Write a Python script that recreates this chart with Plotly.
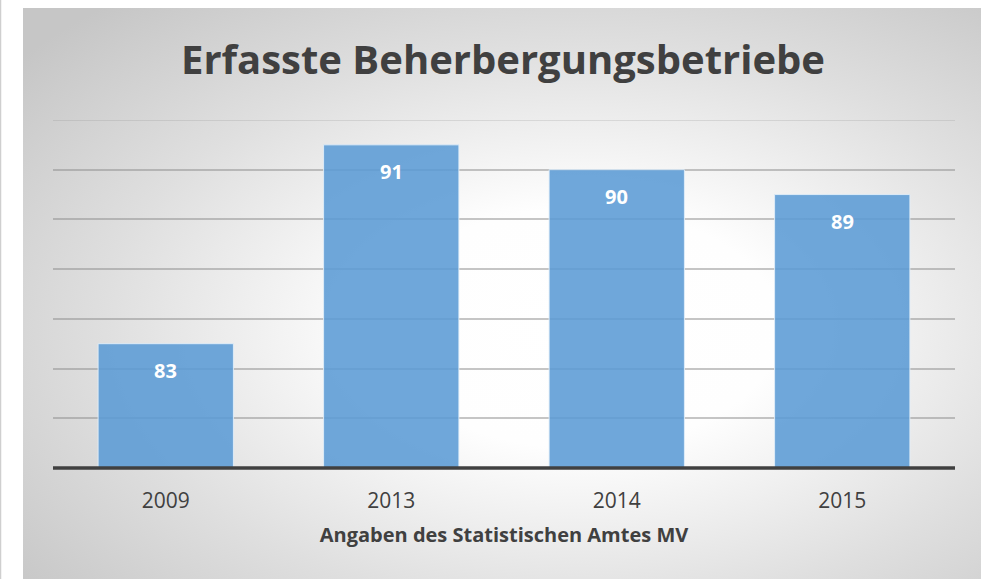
import plotly.graph_objects as go
import urllib.parse

categories = ["2009", "2013", "2014", "2015"]
values = [83, 91, 90, 89]
labels = ["83", "91", "90", "89"]

title_text = "Erfasste Beherbergungsbetriebe"
xaxis_title = "Angaben des Statistischen Amtes MV"

W, H = 981, 579
L, R, T, B = 53, 26, 120, 111
pw, ph = W - L - R, H - T - B

def px_to_paper_x(px):
    return (px - L) / pw

def px_to_paper_y(py):
    return (H - B - py) / ph

# radial gradient background (chart area)
bx0, by0, bx1, by1 = 23, 8, 981, 579
svg = (
    f'<svg xmlns="http://www.w3.org/2000/svg" width="{bx1-bx0}" height="{by1-by0}" '
    f'viewBox="0 0 {bx1-bx0} {by1-by0}" preserveAspectRatio="none">'
    '<defs><radialGradient id="g" cx="0.58" cy="0.56" r="0.75" fx="0.58" fy="0.56">'
    '<stop offset="0" stop-color="#ffffff"/>'
    '<stop offset="0.28" stop-color="#fefefe"/>'
    '<stop offset="0.66" stop-color="#dfdfdf"/>'
    '<stop offset="1" stop-color="#c6c6c6"/>'
    '</radialGradient></defs>'
    f'<rect x="0" y="0" width="{bx1-bx0}" height="{by1-by0}" fill="url(#g)"/></svg>'
)
svg_uri = "data:image/svg+xml;charset=utf-8," + urllib.parse.quote(svg)

grid_color = "rgba(140,140,140,0.5)"

fig = go.Figure()
fig.add_trace(go.Bar(
    x=categories,
    y=values,
    marker=dict(color="rgba(91,155,213,0.88)",
                line=dict(color="rgba(225,238,250,0.9)", width=1)),
    width=0.6,
    hoverinfo="skip",
))

for i, (v, t) in enumerate(zip(values, labels)):
    fig.add_annotation(x=i, y=v, text=f"<b>{t}</b>", showarrow=False,
                       yanchor="middle", yshift=-27,
                       font=dict(family="Open Sans", size=20, color="white"))

fig.add_layout_image(dict(
    source=svg_uri, xref="paper", yref="paper",
    x=px_to_paper_x(bx0), y=px_to_paper_y(by0),
    sizex=(bx1 - bx0) / pw, sizey=(by1 - by0) / ph,
    xanchor="left", yanchor="top", sizing="stretch", layer="below",
))

# thin left border line of the slide
fig.add_shape(type="line", xref="paper", yref="paper",
              x0=px_to_paper_x(0.5), x1=px_to_paper_x(0.5),
              y0=px_to_paper_y(0), y1=px_to_paper_y(H),
              line=dict(color="#cfcfcf", width=1.5))

# top gridline at the upper edge of the value range
fig.add_shape(type="line", xref="paper", yref="y",
              x0=0, x1=1, y0=92, y1=92,
              line=dict(color="rgba(140,140,140,0.3)", width=1.5), layer="below")

fig.add_annotation(xref="paper", yref="paper",
                   x=px_to_paper_x(503), y=px_to_paper_y(59),
                   text=f"<b>{title_text}</b>", showarrow=False,
                   xanchor="center", yanchor="middle",
                   font=dict(family="Open Sans", size=40, color="#404040"))

fig.update_layout(
    width=W, height=H,
    margin=dict(l=L, r=R, t=T, b=B, autoexpand=False),
    paper_bgcolor="white",
    plot_bgcolor="rgba(0,0,0,0)",
    showlegend=False,
    bargap=0.4,
    xaxis=dict(
        type="category",
        range=[-0.5, len(categories) - 0.5],
        showgrid=False,
        showline=False,
        ticks="",
        tickfont=dict(family="Open Sans", size=21, color="#404040"),
        ticklabelstandoff=18,
        title=dict(text=f"<b>{xaxis_title}</b>", standoff=14,
                   font=dict(family="Open Sans", size=20, color="#404040")),
    ),
    yaxis=dict(
        range=[78, 92],
        dtick=2,
        showticklabels=False,
        showgrid=True,
        gridcolor=grid_color,
        gridwidth=1.5,
        zeroline=False,
        showline=False,
        ticks="",
    ),
)

# baseline axis line (drawn on top of bars)
fig.add_shape(type="line", xref="paper", yref="paper",
              x0=0, x1=1, y0=0, y1=0,
              line=dict(color="#404040", width=3.5), layer="above")

fig.write_html("out.html",
               config={"displayModeBar": False},
               post_script="document.body.style.margin='0';document.body.style.padding='0';")
